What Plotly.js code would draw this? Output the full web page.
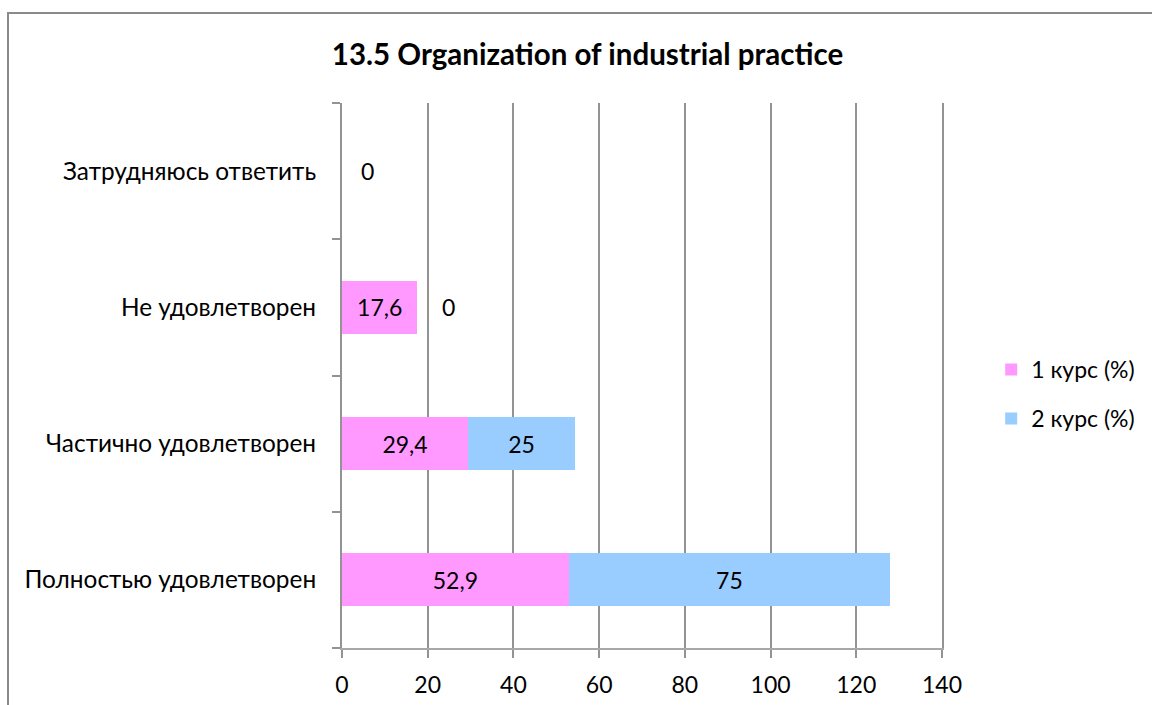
<!DOCTYPE html>
<html><head><meta charset="utf-8">
<script src="https://cdn.plot.ly/plotly-3.0.1.min.js"></script>
<style>
html,body{margin:0;padding:0;background:#fff;overflow:hidden;}
#frame{position:absolute;left:7px;top:12px;width:1200px;height:800px;border:2px solid #8a8a8a;box-sizing:border-box;}
#chart{position:absolute;left:0;top:0;width:1152px;height:705px;}
</style></head>
<body>
<div id="frame"></div>
<div id="chart"></div>
<script>
const categories = ["Полностью удовлетворен", "Частично удовлетворен", "Не удовлетворен", "Затрудняюсь ответить"];
const seriesNames = ["1 курс (%)", "2 курс (%)"];
const course1 = [52.9, 29.4, 17.6, 0];
const course2 = [75, 25, 0, null];
const xTicks = [0, 20, 40, 60, 80, 100, 120, 140];

const colors = ["#FF99FF", "#99CCFF"];
const zeroShift = [17, 23];
const FONT = "Lato, 'Open Sans', sans-serif";
const FS = 23;
const LINE = "#939393";

function fmt(v){ return String(v).replace(".", ","); }

const all = [course1, course2];
const traces = all.map((vals, i) => ({
  type: "bar",
  orientation: "h",
  name: seriesNames[i],
  legendgroup: "g" + i,
  y: categories,
  x: vals,
  marker: {color: colors[i]},
  text: vals.map(v => (v === null || v === 0) ? "" : fmt(v)),
  textposition: "inside",
  insidetextanchor: "middle",
  textfont: {family: FONT, size: FS, color: "#000"},
  hoverinfo: "x+y+name"
}));

const annotations = [];
categories.forEach((c, j) => {
  let base = 0;
  all.forEach((vals, i) => {
    const v = vals[j];
    if (v === 0) {
      annotations.push({
        x: base, y: c, xref: "x", yref: "y", text: fmt(v), showarrow: false,
        xanchor: "left", xshift: zeroShift[i],
        font: {family: FONT, size: FS, color: "#000"}
      });
    }
    if (v !== null) base += v;
  });
});

const layout = {
  width: 1152, height: 705,
  paper_bgcolor: "rgba(0,0,0,0)",
  plot_bgcolor: "rgba(0,0,0,0)",
  barmode: "stack",
  bargap: 0.61,
  margin: {l: 342, r: 208, t: 103, b: 57},
  font: {family: FONT, size: FS, color: "#000"},
  title: {
    text: "<b>13.5 Organization of industrial practice</b>",
    font: {family: FONT, size: 29.5, color: "#000"},
    x: 0.51, xanchor: "center", y: 0.922, yanchor: "middle"
  },
  xaxis: {
    range: [0, 140],
    tickvals: xTicks,
    ticktext: xTicks.map(String),
    showgrid: true, gridcolor: LINE, gridwidth: 2,
    showline: true, linecolor: "#a8a8a8", linewidth: 2,
    ticks: "outside", ticklen: 8, tickcolor: LINE, tickwidth: 2,
    ticklabelstandoff: 7,
    zeroline: false,
    tickfont: {family: FONT, size: FS, color: "#000"},
    fixedrange: true
  },
  yaxis: {
    type: "category",
    categoryorder: "array", categoryarray: categories,
    range: [-0.5, 3.5],
    showline: true, mirror: true, linecolor: LINE, linewidth: 2,
    ticks: "outside", tickson: "boundaries", ticklen: 8, tickcolor: LINE, tickwidth: 2,
    ticklabelstandoff: 19,
    showgrid: false,
    tickfont: {family: FONT, size: 24.4, color: "#000"},
    fixedrange: true
  },
  legend: {
    x: 1.082, xanchor: "left", y: 0.466, yanchor: "middle",
    font: {family: FONT, size: FS, color: "#000"},
    tracegroupgap: 16, itemwidth: 30,
    traceorder: "grouped",
    bgcolor: "rgba(0,0,0,0)"
  },
  annotations: annotations,
  showlegend: true
};

Plotly.newPlot("chart", traces, layout, {displayModeBar: false, staticPlot: true});
</script>
</body></html>
